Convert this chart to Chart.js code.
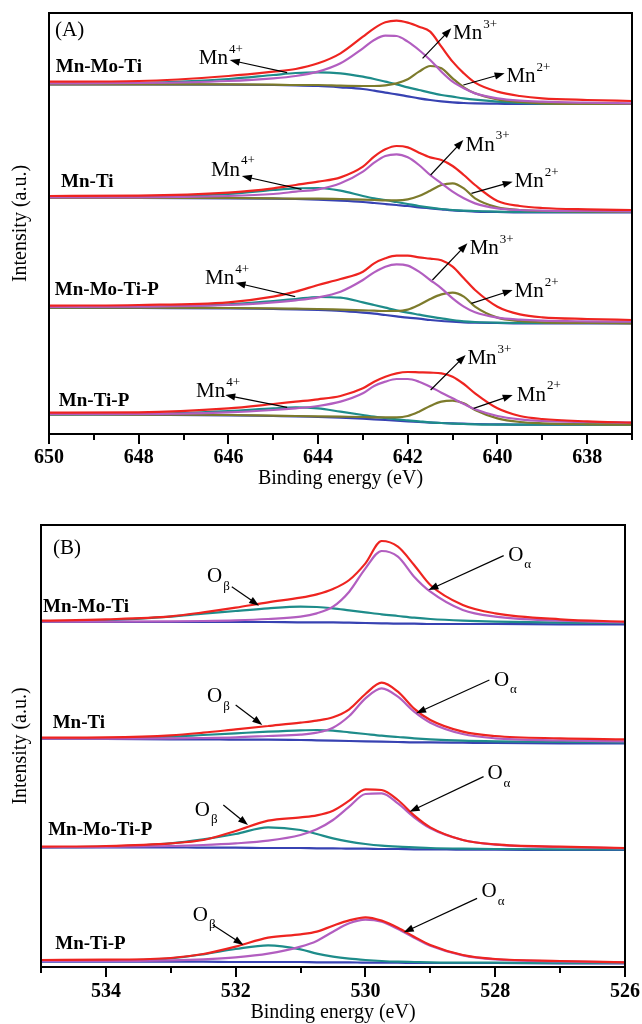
<!DOCTYPE html>
<html>
<head>
<meta charset="utf-8">
<script src="https://cdn.jsdelivr.net/npm/chart.js@4.4.1/dist/chart.umd.min.js"></script>
<style>
  html, body { margin: 0; padding: 0; background: #fff; overflow: hidden; }
  canvas { display: block; }
</style>
</head>
<body>
<canvas id="panel-a" width="642" height="500"></canvas>
<canvas id="panel-b" width="642" height="530"></canvas>
<script>
/* ---- Mn 2p3/2 (panel A): binding energies (eV) ---- */
const EV_A = [650, 648, 646, 645, 644.5, 644, 643.5, 643, 642.75, 642.5, 642.25, 642,
              641.75, 641.5, 641.25, 641, 640.75, 640.5, 640, 639.5, 639, 638, 637];
const A_TICKS = [650, 648, 646, 644, 642, 640, 638];

// Mn-Mo-Ti
const A1_total = [1057, 1059, 1074, 1087, 1095, 1112, 1142, 1192, 1217, 1235, 1240, 1234, 1222, 1207, 1162, 1117, 1082, 1054, 1027, 1014, 1007, 1002, 999];
const A1_mn3   = [1052, 1053, 1059, 1067, 1074, 1087, 1112, 1157, 1182, 1195, 1194, 1177, 1152, 1122, 1087, 1057, 1037, 1022, 1007, 1000, 997, 994, 992];
const A1_mn4   = [1050, 1053, 1065, 1077, 1083, 1085, 1082, 1072, 1065, 1057, 1049, 1040, 1032, 1024, 1017, 1012, 1007, 1003, 997, 993, 991, 990, 990];
const A1_mn2   = [1049, 1049, 1049, 1048, 1047, 1047, 1045, 1044, 1044, 1046, 1052, 1064, 1087, 1104, 1097, 1067, 1040, 1022, 1004, 996, 992, 990, 990];
const A1_bg    = [1049, 1049, 1048, 1047, 1046, 1044, 1040, 1035, 1030, 1024, 1019, 1013, 1007, 1002, 998, 995, 993, 992, 991, 990, 990, 990, 990];
// Mn-Ti
const A2_total = [714, 715, 724, 737, 747, 757, 770, 802, 832, 854, 864, 860, 844, 830, 822, 804, 777, 747, 699, 684, 678, 674, 672];
const A2_mn3   = [710, 710, 714, 720, 727, 734, 752, 787, 814, 834, 839, 830, 807, 777, 752, 727, 707, 692, 677, 672, 670, 669, 668];
const A2_mn4   = [709, 711, 720, 732, 737, 738, 730, 714, 707, 702, 696, 690, 684, 679, 675, 672, 670, 669, 667, 666, 666, 666, 666];
const A2_mn2   = [708, 708, 708, 707, 706, 706, 705, 703, 702, 701, 701, 704, 714, 730, 747, 752, 737, 707, 680, 672, 669, 668, 667];
const A2_bg    = [708, 708, 707, 706, 705, 703, 700, 696, 693, 690, 687, 684, 680, 677, 674, 671, 669, 667, 666, 665, 665, 665, 665];
// Mn-Mo-Ti-P
const A3_total = [385, 387, 395, 412, 427, 447, 465, 487, 512, 527, 535, 535, 530, 526, 521, 502, 467, 432, 382, 359, 350, 345, 342];
const A3_mn3   = [381, 382, 387, 395, 401, 410, 427, 462, 485, 502, 509, 505, 487, 462, 437, 407, 382, 365, 349, 343, 340, 338, 337];
const A3_mn4   = [380, 381, 389, 399, 405, 411, 409, 395, 387, 379, 371, 364, 358, 352, 347, 342, 338, 336, 334, 333, 333, 333, 333];
const A3_mn2   = [379, 379, 378, 377, 376, 375, 373, 371, 370, 369, 369, 373, 387, 405, 419, 424, 412, 382, 349, 339, 335, 333, 332];
const A3_bg    = [379, 378, 377, 375, 374, 372, 369, 364, 361, 357, 353, 349, 346, 342, 339, 337, 335, 334, 333, 332, 332, 332, 332];
// Mn-Ti-P
const A4_total = [64, 65, 77, 90, 97, 104, 114, 137, 157, 172, 182, 186, 185, 184, 182, 172, 150, 122, 77, 54, 45, 38, 34];
const A4_mn3   = [60, 60, 65, 72, 77, 84, 97, 122, 144, 157, 165, 165, 157, 142, 124, 107, 90, 74, 54, 44, 39, 36, 34];
const A4_mn4   = [59, 60, 69, 77, 80, 77, 67, 57, 52, 48, 44, 41, 38, 35, 33, 31, 30, 29, 28, 28, 28, 28, 28];
const A4_mn2   = [59, 58, 57, 55, 54, 53, 52, 51, 50, 50, 50, 54, 67, 84, 97, 100, 92, 72, 47, 36, 32, 29, 28];
const A4_bg    = [59, 58, 56, 54, 53, 51, 49, 46, 44, 42, 40, 38, 36, 34, 33, 32, 31, 30, 29, 28, 28, 28, 28];

/* ---- O 1s (panel B) ---- */
const EV_B = [535, 534, 533, 532.5, 532, 531.5, 531, 530.75, 530.5, 530.25, 530, 529.75,
              529.5, 529.25, 529, 528.5, 528, 527, 526];
const B_TICKS = [534, 532, 530, 528, 526];

const B1_total = [1039, 1043, 1052, 1064, 1078, 1094, 1108, 1118, 1134, 1161, 1211, 1278, 1261, 1206, 1146, 1086, 1061, 1043, 1036];
const B1_oa    = [1036, 1036, 1037, 1038, 1040, 1044, 1051, 1061, 1081, 1126, 1196, 1248, 1231, 1171, 1126, 1071, 1051, 1039, 1034];
const B1_ob    = [1036, 1040, 1051, 1060, 1068, 1076, 1081, 1080, 1076, 1070, 1064, 1058, 1053, 1048, 1044, 1039, 1036, 1033, 1032];
const B1_bg    = [1035, 1035, 1035, 1035, 1035, 1035, 1034, 1034, 1034, 1033, 1032, 1031, 1030, 1030, 1029, 1029, 1029, 1028, 1028];

const B2_total = [688, 689, 695, 703, 713, 723, 733, 739, 749, 773, 819, 853, 826, 775, 741, 706, 693, 686, 683];
const B2_oa    = [685, 685, 686, 687, 689, 693, 697, 703, 718, 753, 806, 836, 811, 766, 733, 699, 686, 680, 677];
const B2_ob    = [685, 686, 691, 696, 701, 706, 710, 711, 709, 704, 699, 694, 690, 686, 683, 679, 677, 675, 674];
const B2_bg    = [684, 684, 683, 683, 682, 682, 681, 680, 679, 678, 677, 676, 675, 674, 674, 673, 672, 671, 671];

const B3_total = [361, 363, 371, 381, 408, 439, 449, 455, 469, 499, 533, 531, 501, 455, 419, 381, 368, 361, 357];
const B3_oa    = [359, 360, 363, 366, 371, 379, 396, 413, 441, 481, 519, 521, 491, 449, 416, 381, 367, 360, 356];
const B3_ob    = [359, 361, 371, 383, 399, 419, 411, 399, 386, 376, 369, 364, 361, 359, 357, 355, 354, 353, 353];
const B3_bg    = [359, 359, 359, 358, 358, 357, 357, 356, 356, 355, 355, 354, 354, 353, 353, 352, 352, 351, 351];

const B4_total = [21, 22, 27, 39, 61, 88, 98, 106, 124, 140, 149, 139, 118, 91, 66, 36, 24, 18, 14];
const B4_oa    = [18, 18, 20, 23, 29, 40, 61, 78, 106, 131, 142, 136, 114, 88, 64, 35, 23, 17, 14];
const B4_ob    = [18, 19, 26, 38, 54, 65, 53, 40, 31, 25, 21, 18, 16, 15, 14, 13, 13, 12, 12];
const B4_bg    = [16, 16, 16, 16, 15, 15, 15, 14, 14, 14, 13, 13, 13, 12, 12, 12, 12, 11, 11];

const SAMPLES = ['Mn-Mo-Ti', 'Mn-Ti', 'Mn-Mo-Ti-P', 'Mn-Ti-P'];

const COLORS = {
  total: '#ee2420',
  main:  '#b25ec0',
  side:  '#1e8c8a',
  mn2:   '#7d7b2c',
  bg:    '#3742b2'
};

const SERIF = '"Liberation Serif", "Times New Roman", serif';

/* ---- annotation placement (data coordinates) ---- */
const SAMPLE_TAGS_A = [[649.85, 1101], [649.73, 756], [649.87, 432], [649.78, 99]];
const SAMPLE_TAGS_B = [[534.97, 1080], [534.82, 732], [534.89, 411], [534.78, 69]];

const NOTES_A = [
  { base: 'Mn', script: '4+', at: [646.66, 1127], tail: [644.69, 1084], head: [645.97, 1122] },
  { base: 'Mn', script: '3+', at: [640.99, 1202], tail: [641.67, 1127], head: [641.03, 1217] },
  { base: 'Mn', script: '2+', at: [639.80, 1072], tail: [640.76, 1047], head: [639.84, 1082] },
  { base: 'Mn', script: '4+', at: [646.39, 792],  tail: [644.37, 734],  head: [645.70, 774] },
  { base: 'Mn', script: '3+', at: [640.71, 867],  tail: [641.49, 777],  head: [640.76, 882] },
  { base: 'Mn', script: '2+', at: [639.62, 757],  tail: [640.58, 722],  head: [639.66, 757] },
  { base: 'Mn', script: '4+', at: [646.52, 467],  tail: [644.51, 412],  head: [645.84, 454] },
  { base: 'Mn', script: '3+', at: [640.62, 557],  tail: [641.45, 462],  head: [640.67, 572] },
  { base: 'Mn', script: '2+', at: [639.62, 427],  tail: [640.58, 392],  head: [639.66, 432] },
  { base: 'Mn', script: '4+', at: [646.72, 127],  tail: [644.69, 80],   head: [646.07, 117] },
  { base: 'Mn', script: '3+', at: [640.67, 227],  tail: [641.49, 132],  head: [640.71, 237] },
  { base: 'Mn', script: '2+', at: [639.57, 117],  tail: [640.53, 77],   head: [639.66, 117] }
];

const NOTES_B = [
  { base: 'O', script: 'β', sub: true, at: [532.44, 1171], tail: [532.06, 1141], head: [531.64, 1084] },
  { base: 'O', script: 'α', sub: true, at: [527.80, 1236], tail: [527.87, 1234], head: [529.03, 1131] },
  { base: 'O', script: 'β', sub: true, at: [532.44, 811],  tail: [532.00, 786],  head: [531.59, 726] },
  { base: 'O', script: 'α', sub: true, at: [528.02, 861],  tail: [528.09, 861],  head: [529.22, 761] },
  { base: 'O', script: 'β', sub: true, at: [532.63, 471],  tail: [532.19, 486],  head: [531.81, 426] },
  { base: 'O', script: 'α', sub: true, at: [528.12, 581],  tail: [528.18, 571],  head: [529.32, 466] },
  { base: 'O', script: 'β', sub: true, at: [532.66, 156],  tail: [532.35, 126],  head: [531.88, 66] },
  { base: 'O', script: 'α', sub: true, at: [528.21, 226],  tail: [528.28, 206],  head: [529.41, 104] }
];

function pts(ev, vals) {
  return vals.map((v, i) => ({ x: ev[i], y: v }));
}

function curve(ev, vals, color) {
  return {
    data: pts(ev, vals),
    borderColor: color,
    borderWidth: 2.2,
    pointRadius: 0,
    cubicInterpolationMode: 'monotone',
    fill: false
  };
}

function drawArrow(ctx, x1, y1, x2, y2) {
  const ang = Math.atan2(y2 - y1, x2 - x1);
  const len = 10, half = 3.6;
  ctx.beginPath();
  ctx.moveTo(x1, y1);
  ctx.lineTo(x2 - Math.cos(ang) * len * 0.8, y2 - Math.sin(ang) * len * 0.8);
  ctx.lineWidth = 1.2;
  ctx.strokeStyle = '#000';
  ctx.stroke();
  ctx.beginPath();
  ctx.moveTo(x2, y2);
  ctx.lineTo(x2 - Math.cos(ang) * len - Math.sin(ang) * half, y2 - Math.sin(ang) * len + Math.cos(ang) * half);
  ctx.lineTo(x2 - Math.cos(ang) * len + Math.sin(ang) * half, y2 - Math.sin(ang) * len - Math.cos(ang) * half);
  ctx.closePath();
  ctx.fillStyle = '#000';
  ctx.fill();
}

/* ---- frame, minor ticks, labels, arrows ---- */
const xpsDecor = {
  id: 'xpsDecor',
  afterDraw(chart, args, opts) {
    const { ctx, chartArea: a, scales: { x, y } } = chart;
    ctx.save();
    ctx.strokeStyle = '#000';
    ctx.lineWidth = 2;
    ctx.strokeRect(a.left, a.top, a.right - a.left, a.bottom - a.top);

    ctx.beginPath();
    for (let v = Math.ceil(x.min); v <= x.max; v++) {
      const px = Math.round(x.getPixelForValue(v));
      const len = opts.ticks.includes(v) ? 10 : 6;
      ctx.moveTo(px, a.bottom);
      ctx.lineTo(px, a.bottom + len);
    }
    ctx.stroke();

    ctx.fillStyle = '#000';
    ctx.textAlign = 'left';
    ctx.textBaseline = 'middle';
    ctx.font = '21px ' + SERIF;
    ctx.fillText(opts.tag, a.left + opts.tagPos[0], a.top + opts.tagPos[1]);

    ctx.font = 'bold 19px ' + SERIF;
    opts.tags.forEach((p, i) => {
      ctx.fillText(SAMPLES[i], x.getPixelForValue(p[0]), y.getPixelForValue(p[1]));
    });

    opts.notes.forEach(n => {
      drawArrow(ctx,
        x.getPixelForValue(n.tail[0]), y.getPixelForValue(n.tail[1]),
        x.getPixelForValue(n.head[0]), y.getPixelForValue(n.head[1]));
      const tx = x.getPixelForValue(n.at[0]);
      const ty = y.getPixelForValue(n.at[1]);
      ctx.fillStyle = '#000';
      ctx.font = '21px ' + SERIF;
      ctx.fillText(n.base, tx, ty);
      const w = ctx.measureText(n.base).width;
      ctx.font = '13px ' + SERIF;
      ctx.fillText(n.script, tx + w + 1, ty + (n.sub ? 10 : -9));
    });
    ctx.restore();
  }
};

function panel(id, cfg) {
  new Chart(document.getElementById(id), {
    type: 'line',
    data: { datasets: cfg.datasets },
    options: {
      responsive: false,
      animation: false,
      devicePixelRatio: 1,
      layout: { padding: cfg.padding },
      plugins: {
        legend: { display: false },
        tooltip: { enabled: false },
        xpsDecor: cfg.decor
      },
      scales: {
        x: {
          type: 'linear',
          reverse: true,
          min: cfg.xMin,
          max: cfg.xMax,
          grid: { display: false, drawTicks: false },
          border: { display: false },
          ticks: {
            stepSize: 2,
            includeBounds: false,
            autoSkip: false,
            maxRotation: 0,
            padding: cfg.tickPad,
            color: '#000',
            font: { family: SERIF, size: 20, weight: 'bold' }
          },
          title: {
            display: true,
            text: 'Binding energy (eV)',
            color: '#000',
            font: { family: SERIF, size: 20 },
            padding: { top: 0, bottom: cfg.titlePad }
          },
          afterFit(s) {
            s.height = cfg.xHeight;
            // edge labels may overhang; the layout padding already leaves room
            s.paddingLeft = 0;
            s.paddingRight = 0;
          }
        },
        y: {
          min: 0,
          max: cfg.yMax,
          grid: { display: false, drawTicks: false },
          border: { display: false },
          ticks: { display: false },
          title: {
            display: true,
            text: 'Intensity (a.u.)',
            color: '#000',
            font: { family: SERIF, size: 20 },
            padding: { top: 9, bottom: 0 }
          },
          afterFit(s) { s.width = cfg.yWidth; }
        }
      }
    },
    plugins: [xpsDecor]
  });
}

function mnSet(total, mn3, mn2, mn4, bg) {
  return [
    curve(EV_A, total, COLORS.total),
    curve(EV_A, mn3, COLORS.main),
    curve(EV_A, mn2, COLORS.mn2),
    curve(EV_A, mn4, COLORS.side),
    curve(EV_A, bg, COLORS.bg)
  ];
}

function oSet(total, oa, ob, bg) {
  return [
    curve(EV_B, total, COLORS.total),
    curve(EV_B, oa, COLORS.main),
    curve(EV_B, ob, COLORS.side),
    curve(EV_B, bg, COLORS.bg)
  ];
}

panel('panel-a', {
  datasets: [
    ...mnSet(A1_total, A1_mn3, A1_mn2, A1_mn4, A1_bg),
    ...mnSet(A2_total, A2_mn3, A2_mn2, A2_mn4, A2_bg),
    ...mnSet(A3_total, A3_mn3, A3_mn2, A3_mn4, A3_bg),
    ...mnSet(A4_total, A4_mn3, A4_mn2, A4_mn4, A4_bg)
  ],
  padding: { left: 0, top: 13, right: 10, bottom: 0 },
  xMin: 637, xMax: 650, yMax: 1263,
  xHeight: 66, yWidth: 49, tickPad: 12, titlePad: 9,
  decor: { tag: '(A)', tagPos: [6, 17], ticks: A_TICKS, tags: SAMPLE_TAGS_A, notes: NOTES_A }
});

panel('panel-b', {
  datasets: [
    ...oSet(B1_total, B1_oa, B1_ob, B1_bg),
    ...oSet(B2_total, B2_oa, B2_ob, B2_bg),
    ...oSet(B3_total, B3_oa, B3_ob, B3_bg),
    ...oSet(B4_total, B4_oa, B4_ob, B4_bg)
  ],
  padding: { left: 0, top: 25, right: 17, bottom: 0 },
  xMin: 526, xMax: 535, yMax: 1326,
  xHeight: 63, yWidth: 41, tickPad: 13, titlePad: 5,
  decor: { tag: '(B)', tagPos: [12, 23], ticks: B_TICKS, tags: SAMPLE_TAGS_B, notes: NOTES_B }
});
</script>
</body>
</html>
